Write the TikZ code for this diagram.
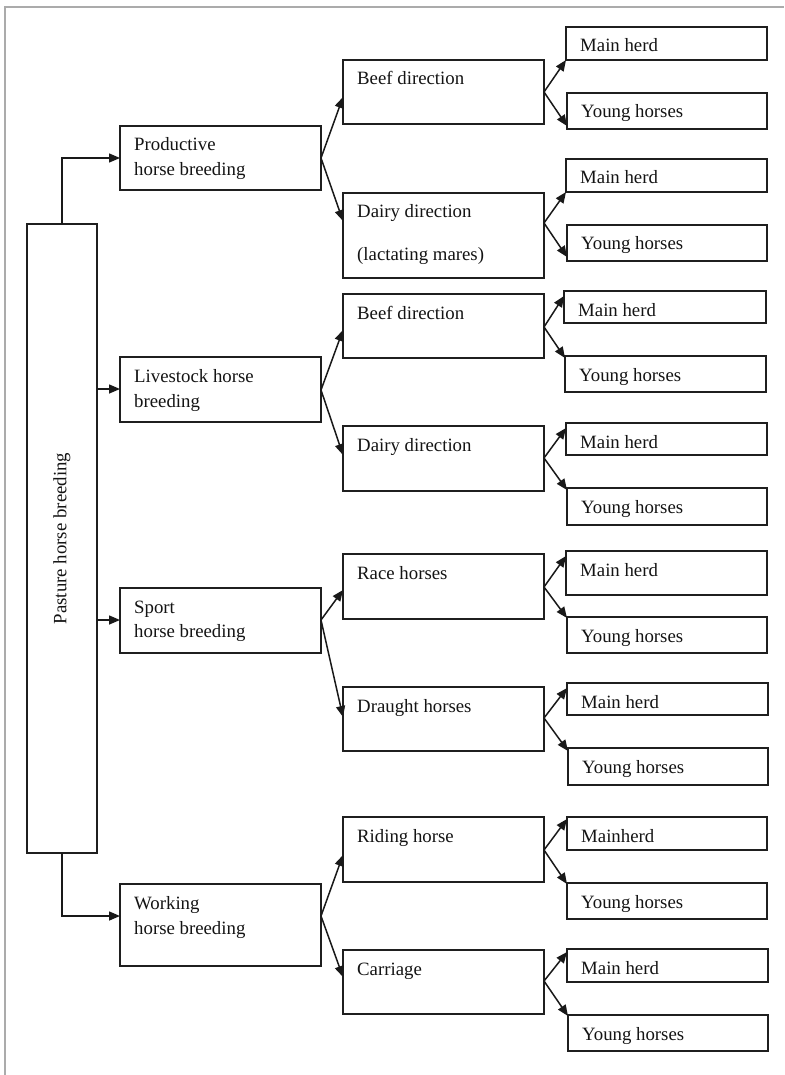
\documentclass[tikz,border=0pt]{standalone}
\usepackage{fontspec}
\setmainfont{Liberation Serif}
\usetikzlibrary{arrows.meta,calc}
\newcommand\hbbox[6]{%
  \node[box, minimum width={#4-#2}, minimum height={#5-#3}] (#1) at ({(#2+#4)/2},{(#3+#5)/2}) {};
  \node[txt] (#1t) at ({#2+14},{#3+25}) {#6};}
\begin{document}
\begin{tikzpicture}[x=1pt,y=-1pt,
  box/.style={draw=black!88, line width=1.6pt, rectangle, inner sep=0pt, outer sep=0pt},
  txt/.style={anchor=base west, inner sep=0pt, font=\fontsize{18.8}{22}\selectfont, text=black!92},
  arr/.style={draw=black!90, line width=1.5pt, -{Triangle[length=11pt,width=9pt]}},
  frame/.style={draw=black!33, line width=2.5pt}]
\fill[white] (0,0) rectangle (784,1075);
\useasboundingbox (0,0) rectangle (784,1075);
\draw[frame] (5,1075) -- (5,7) -- (784,7);

% root
\node[box, minimum width=70, minimum height=629] (past) at (62,538.5) {};
\node[inner sep=0pt, rotate=90, font=\fontsize{18.8}{22}\selectfont, text=black!92] (pastt) at (past.center) {Pasture horse breeding};

% level 1
\hbbox{prod}{120}{126}{321}{190}{Productive}
\node[txt] (prodt2) at (134,176) {horse breeding};
\hbbox{liv}{120}{357}{321}{422}{Livestock horse}
\node[txt] (livt2) at (134,407) {breeding};
\hbbox{sport}{120}{588}{321}{653}{Sport}
\node[txt] (sportt2) at (134,637) {horse breeding};
\hbbox{work}{120}{884}{321}{966}{Working}
\node[txt] (workt2) at (134,934) {horse breeding};

% level 2
\hbbox{b1}{343}{60}{544}{124}{Beef direction}
\hbbox{b2}{343}{193}{544}{278}{Dairy direction}
\node[txt] (b2t2) at (357,260) {(lactating mares)};
\hbbox{b3}{343}{294}{544}{358}{Beef direction}
\hbbox{b4}{343}{426}{544}{491}{Dairy direction}
\hbbox{b5}{343}{554}{544}{619}{Race horses}
\hbbox{b6}{343}{687}{544}{751}{Draught horses}
\hbbox{b7}{343}{817}{544}{882}{Riding horse}
\hbbox{b8}{343}{950}{544}{1014}{Carriage}

% level 3
\hbbox{m1}{566}{27}{767}{60}{Main herd}
\hbbox{y1}{567}{93}{767}{129}{Young horses}
\hbbox{m2}{566}{159}{767}{192}{Main herd}
\hbbox{y2}{567}{225}{767}{261}{Young horses}
\hbbox{m3}{564}{291}{766}{323}{Main herd}
\hbbox{y3}{565}{356}{766}{392}{Young horses}
\hbbox{m4}{566}{423}{767}{455}{Main herd}
\hbbox{y4}{567}{488}{767}{525}{Young horses}
\hbbox{m5}{566}{551}{767}{595}{Main herd}
\hbbox{y5}{567}{617}{767}{653}{Young horses}
\hbbox{m6}{567}{683}{768}{715}{Main herd}
\hbbox{y6}{568}{748}{768}{785}{Young horses}
\hbbox{m7}{567}{817}{767}{850}{Mainherd}
\hbbox{y7}{567}{883}{767}{919}{Young horses}
\hbbox{m8}{567}{949}{768}{982}{Main herd}
\hbbox{y8}{568}{1015}{768}{1051}{Young horses}

% root connectors
\coordinate (prodin) at ($(prod.north west)+(0,32)$);
\coordinate (livin) at ($(liv.north west)+(0,32)$);
\coordinate (sportin) at ($(sport.north west)+(0,32)$);
\coordinate (workin) at ($(work.north west)+(0,32)$);
\draw[arr] (past.north) |- (prodin);
\draw[arr] (livin -| past.east) -- (livin);
\draw[arr] (sportin -| past.east) -- (sportin);
\draw[arr] (past.south) |- (workin);

% level1 -> level2
\draw[arr] ($(prod.north east)+(0,32)$) -- ($(b1.north west)+(0,37)$);
\draw[arr] ($(prod.north east)+(0,32)$) -- ($(b2.north west)+(0,28)$);
\draw[arr] ($(liv.north east)+(0,33)$) -- ($(b3.north west)+(0,36)$);
\draw[arr] ($(liv.north east)+(0,33)$) -- ($(b4.north west)+(0,29)$);
\draw[arr] ($(sport.north east)+(0,32)$) -- ($(b5.north west)+(0,36)$);
\draw[arr] ($(sport.north east)+(0,32)$) -- ($(b6.north west)+(0,30)$);
\draw[arr] ($(work.north east)+(0,32)$) -- ($(b7.north west)+(0,38)$);
\draw[arr] ($(work.north east)+(0,32)$) -- ($(b8.north west)+(0,27)$);

% level2 -> level3
\draw[arr] ($(b1.north east)+(0,32)$) -- ($(m1.north west)+(0,33)$);
\draw[arr] ($(b1.north east)+(0,32)$) -- ($(y1.north west)+(0,33)$);
\draw[arr] ($(b2.north east)+(0,30)$) -- ($(m2.north west)+(0,33)$);
\draw[arr] ($(b2.north east)+(0,30)$) -- ($(y2.north west)+(0,32)$);
\draw[arr] ($(b3.north east)+(0,33)$) -- ($(m3.north west)+(0,5)$);
\draw[arr] ($(b3.north east)+(0,33)$) -- ($(y3.north west)+(0,2)$);
\draw[arr] ($(b4.north east)+(0,32)$) -- ($(m4.north west)+(0,5)$);
\draw[arr] ($(b4.north east)+(0,32)$) -- ($(y4.north west)+(0,2)$);
\draw[arr] ($(b5.north east)+(0,33)$) -- ($(m5.north west)+(0,5)$);
\draw[arr] ($(b5.north east)+(0,33)$) -- ($(y5.north west)+(0,1)$);
\draw[arr] ($(b6.north east)+(0,31)$) -- ($(m6.north west)+(0,5)$);
\draw[arr] ($(b6.north east)+(0,31)$) -- ($(y6.north west)+(0,3)$);
\draw[arr] ($(b7.north east)+(0,33)$) -- ($(m7.north west)+(0,2)$);
\draw[arr] ($(b7.north east)+(0,33)$) -- ($(y7.north west)+(0,1)$);
\draw[arr] ($(b8.north east)+(0,31)$) -- ($(m8.north west)+(0,3)$);
\draw[arr] ($(b8.north east)+(0,31)$) -- ($(y8.north west)+(0,1)$);
\end{tikzpicture}
\end{document}
